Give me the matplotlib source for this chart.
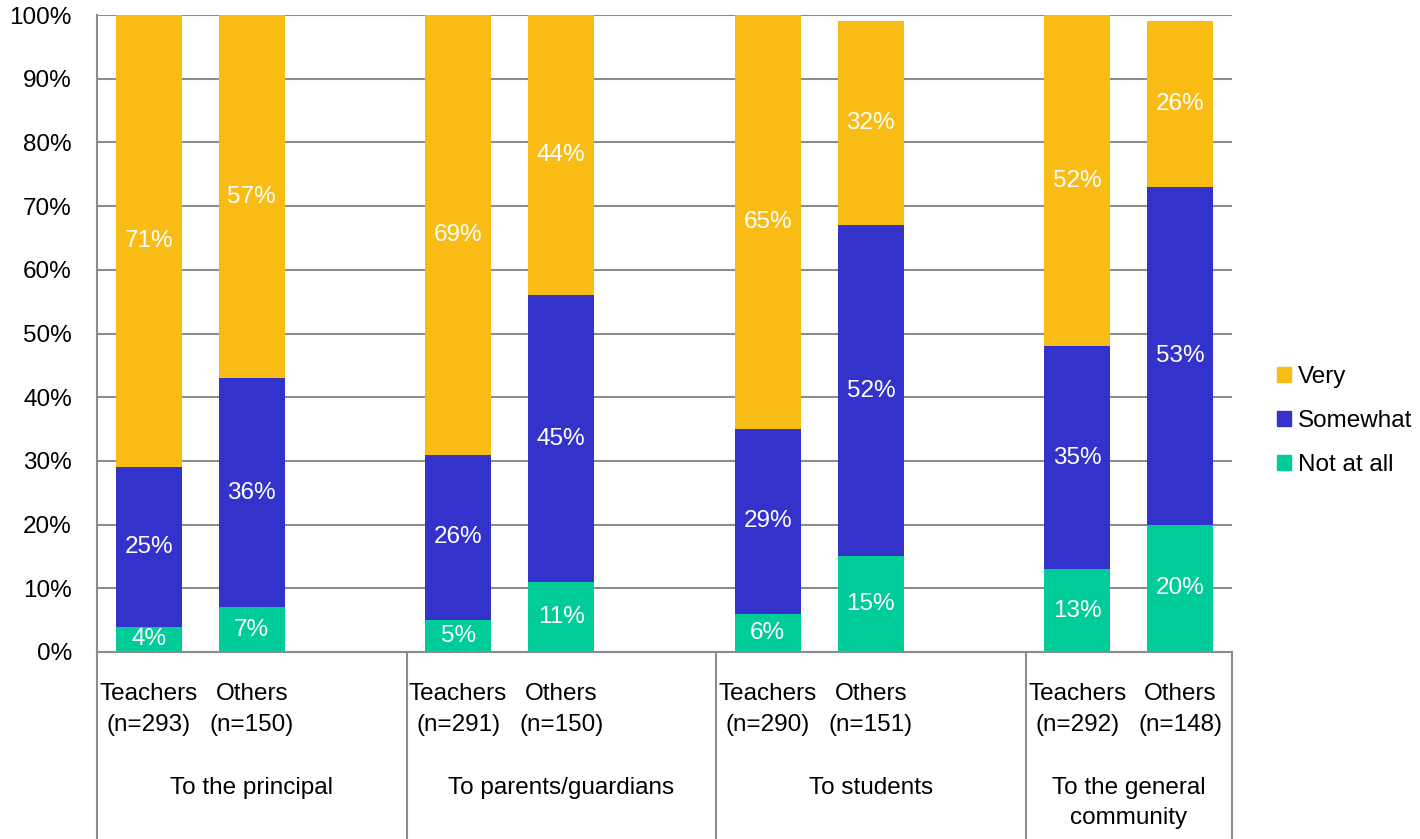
import matplotlib.pyplot as plt
from matplotlib.patches import Patch
from matplotlib.transforms import blended_transform_factory

plt.rcParams['font.family'] = ['Liberation Sans', 'DejaVu Sans']

groups = ["To the principal", "To parents/guardians", "To students",
          "To the general\ncommunity"]
respondents = ["Teachers\n(n=293)", "Others\n(n=150)",
               "Teachers\n(n=291)", "Others\n(n=150)",
               "Teachers\n(n=290)", "Others\n(n=151)",
               "Teachers\n(n=292)", "Others\n(n=148)"]
not_at_all = [4, 7, 5, 11, 6, 15, 13, 20]
somewhat = [25, 36, 26, 45, 29, 52, 35, 53]
very = [71, 57, 69, 44, 65, 32, 52, 26]

yellow = "#F9BC15"
blue = "#3333CC"
green = "#00CC99"
grey = "#8C8C8C"
fs = 17.5

# two bars per group, a blank slot between groups
slots = [0, 1, 3, 4, 6, 7, 9, 10]
xs = [s + 0.5 for s in slots]
edges = [0, 3, 6, 9, 11]

fig = plt.figure(figsize=(14.2, 8.39), dpi=100)
ax = fig.add_axes([0.0683, 0.2229, 0.7993, 0.7592])

bottom2 = [a + b for a, b in zip(not_at_all, somewhat)]
b1 = ax.bar(xs, not_at_all, width=0.64, color=green, zorder=2)
b2 = ax.bar(xs, somewhat, width=0.64, bottom=not_at_all, color=blue, zorder=2)
b3 = ax.bar(xs, very, width=0.64, bottom=bottom2, color=yellow, zorder=2)

for bars, vals in [(b1, not_at_all), (b2, somewhat), (b3, very)]:
    ax.bar_label(bars, labels=[f"{v}%" for v in vals], label_type='center',
                 color='white', fontsize=fs)

ax.set_xlim(0, 11)
ax.set_ylim(0, 100)
ax.set_yticks(range(0, 101, 10))
ax.set_yticklabels([f"{v}%" for v in range(0, 101, 10)], fontsize=fs)
ax.yaxis.grid(True, color=grey, linewidth=1.5, zorder=0)
ax.set_axisbelow(True)
ax.tick_params(axis='y', length=0, pad=18)

ax.set_xticks(xs)
ax.set_xticklabels(respondents, fontsize=fs, linespacing=1.55)
ax.tick_params(axis='x', length=0, pad=22)

for side in ['top', 'right']:
    ax.spines[side].set_visible(False)
ax.spines['left'].set_color(grey)
ax.spines['left'].set_linewidth(1.5)
ax.spines['bottom'].set_color(grey)
ax.spines['bottom'].set_linewidth(1.5)

# category boxes under the axis
trans = blended_transform_factory(ax.transData, ax.transAxes)
for e in edges:
    ax.plot([e, e], [0, -0.30], transform=trans, color=grey, linewidth=1.5,
            clip_on=False)
for g, lo, hi in zip(groups, edges[:-1], edges[1:]):
    ax.text((lo + hi) / 2, -0.196, g, transform=trans, ha='center', va='top',
            fontsize=fs, linespacing=1.5)

handles = [Patch(color=yellow), Patch(color=blue), Patch(color=green)]
fig.legend(handles, ["Very", "Somewhat", "Not at all"], loc='center left',
           bbox_to_anchor=(0.884, 0.498), frameon=False, fontsize=fs,
           handlelength=0.55, handleheight=0.55, handletextpad=0.3,
           labelspacing=0.9)

fig.savefig("out.png", dpi=100)
